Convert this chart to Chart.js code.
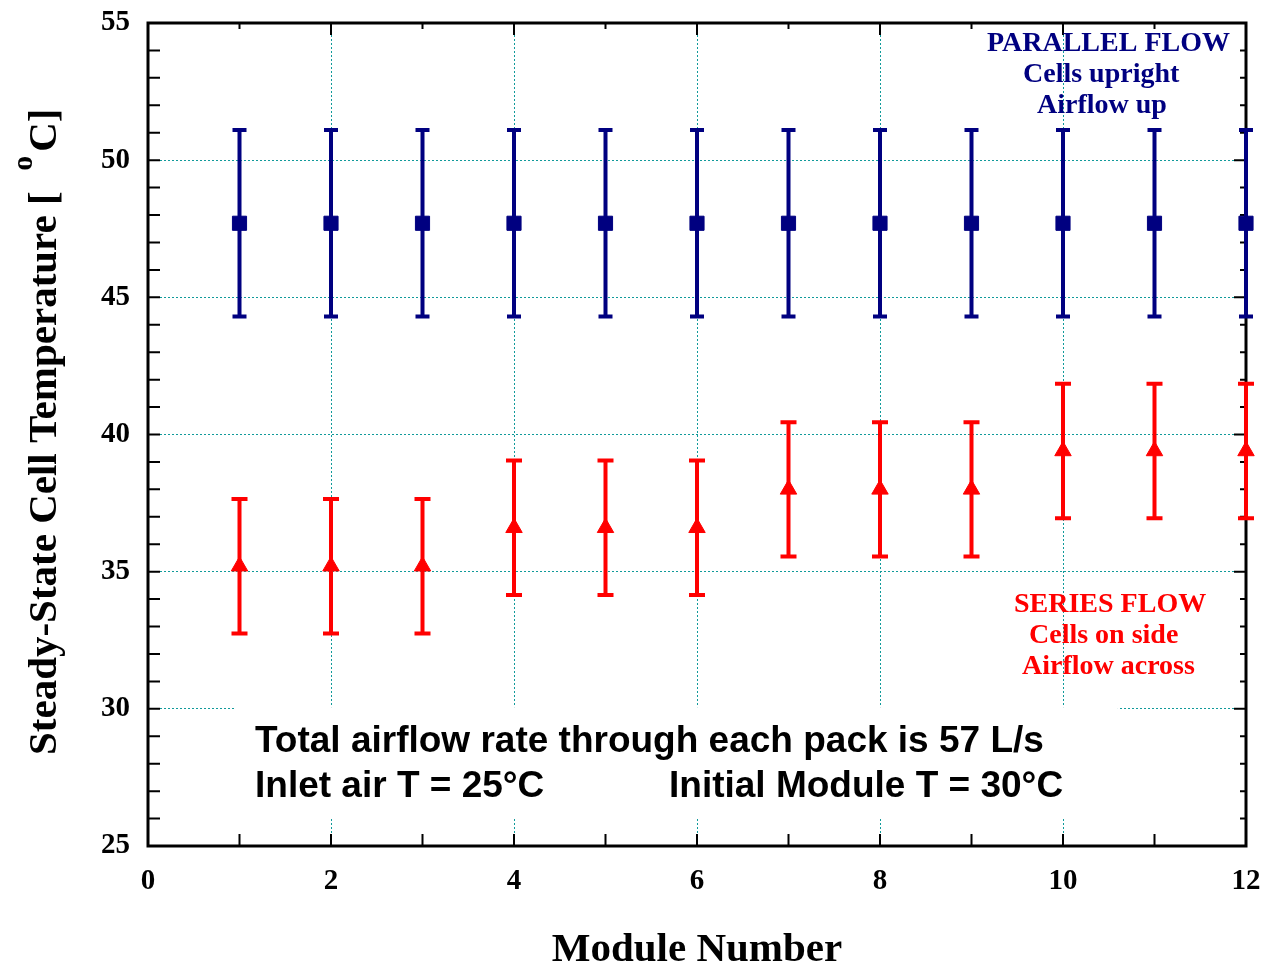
<!DOCTYPE html>
<html>
<head>
<meta charset="utf-8">
<title>Steady-State Cell Temperature by Module</title>
<script src="https://cdn.jsdelivr.net/npm/chart.js@4.4.1/dist/chart.umd.min.js"></script>
<style>
    html, body { margin: 0; padding: 0; background: #fff; }
    #wrap { width: 1262px; height: 966px; }
</style>
</head>
<body>
<div id="wrap"><canvas id="tempChart" width="1262" height="966"></canvas></div>
<script>
// Module numbers along the pack
const modules = [1, 2, 3, 4, 5, 6, 7, 8, 9, 10, 11, 12];

// Parallel flow: cells upright, airflow up
const parallelTemp = [47.7, 47.7, 47.7, 47.7, 47.7, 47.7, 47.7, 47.7, 47.7, 47.7, 47.7, 47.7];
const parallelErr = [3.4, 3.4, 3.4, 3.4, 3.4, 3.4, 3.4, 3.4, 3.4, 3.4, 3.4, 3.4];

// Series flow: cells on side, airflow across
const seriesTemp = [35.2, 35.2, 35.2, 36.6, 36.6, 36.6, 38.0, 38.0, 38.0, 39.4, 39.4, 39.4];
const seriesErr = [2.45, 2.45, 2.45, 2.45, 2.45, 2.45, 2.45, 2.45, 2.45, 2.45, 2.45, 2.45];

// Axis ranges and steps
const xRange = [0, 12];
const xStep = 2;
const yRange = [25, 55];
const yStep = 5;

const NAVY = '#000080';
const RED = '#ff0000';
const GRID = '#109a9a';
const SERIF = "'Liberation Serif', 'Times New Roman', serif";
const SANS = "'Liberation Sans', Arial, sans-serif";

function toPoints(xs, ys) {
    return xs.map((m, i) => ({ x: m, y: ys[i] }));
}

// Frame, inside tick marks, note panel and flow labels
const decorPlugin = {
    id: 'decor',
    beforeDatasetsDraw(chart) {
        const { ctx, chartArea: a, scales: { x, y } } = chart;
        ctx.save();

        // white panel under the airflow note hides the grid
        const bx0 = x.getPixelForValue(0.95), bx1 = x.getPixelForValue(10.6);
        const by0 = y.getPixelForValue(30.06), by1 = y.getPixelForValue(26.05);
        ctx.fillStyle = '#fff';
        ctx.fillRect(bx0, by0, bx1 - bx0, by1 - by0);

        // ticks: bottom/left all 12px, top/right minor 6px
        ctx.strokeStyle = '#000';
        ctx.lineWidth = 2;
        ctx.beginPath();
        for (let v = xRange[0]; v <= xRange[1]; v++) {
            const px = x.getPixelForValue(v);
            const major = v % xStep === 0;
            ctx.moveTo(px, a.bottom); ctx.lineTo(px, a.bottom - 12);
            ctx.moveTo(px, a.top); ctx.lineTo(px, a.top + (major ? 12 : 6));
        }
        for (let v = yRange[0]; v <= yRange[1]; v++) {
            const py = y.getPixelForValue(v);
            const major = v % yStep === 0;
            ctx.moveTo(a.left, py); ctx.lineTo(a.left + 12, py);
            ctx.moveTo(a.right, py); ctx.lineTo(a.right - (major ? 12 : 6), py);
        }
        ctx.stroke();

        // plot frame
        ctx.lineWidth = 3;
        ctx.strokeRect(a.left, a.top, a.right - a.left, a.bottom - a.top);

        // flow labels
        ctx.font = 'bold 28px ' + SERIF;
        ctx.textBaseline = 'middle';
        ctx.textAlign = 'left';
        ctx.fillStyle = NAVY;
        ctx.fillText('PARALLEL FLOW', 987, 44);
        ctx.fillText('Cells upright', 1023, 75);
        ctx.fillText('Airflow up', 1037, 106);
        ctx.fillStyle = RED;
        ctx.fillText('SERIES FLOW', 1014, 605);
        ctx.fillText('Cells on side', 1029, 636);
        ctx.fillText('Airflow across', 1022, 667);

        // airflow note
        ctx.fillStyle = '#000';
        ctx.font = 'bold 37px ' + SANS;
        ctx.textBaseline = 'alphabetic';
        ctx.fillText('Total airflow rate through each pack is 57 L/s', 255, 752);
        ctx.fillText('Inlet air T = 25°C', 255, 797);
        ctx.fillText('Initial Module T = 30°C', 669, 797);

        ctx.restore();
    }
};

// Vertical error bars with caps, drawn under the markers
const errorBarPlugin = {
    id: 'errorBars',
    beforeDatasetsDraw(chart) {
        const { ctx, scales: { x, y } } = chart;
        const sets = [
            { temps: parallelTemp, errs: parallelErr, color: NAVY, cap: 7 },
            { temps: seriesTemp, errs: seriesErr, color: RED, cap: 8 }
        ];
        ctx.save();
        ctx.lineWidth = 4;
        sets.forEach(s => {
            ctx.strokeStyle = s.color;
            ctx.beginPath();
            modules.forEach((m, i) => {
                const px = x.getPixelForValue(m);
                const top = y.getPixelForValue(s.temps[i] + s.errs[i]);
                const bot = y.getPixelForValue(s.temps[i] - s.errs[i]);
                ctx.moveTo(px, top); ctx.lineTo(px, bot);
                ctx.moveTo(px - s.cap, top); ctx.lineTo(px + s.cap, top);
                ctx.moveTo(px - s.cap, bot); ctx.lineTo(px + s.cap, bot);
            });
            ctx.stroke();
        });
        ctx.restore();
    }
};

// Axis titles, including the raised degree mark
const titlesPlugin = {
    id: 'titles',
    afterDraw(chart) {
        const { ctx, chartArea: a } = chart;
        ctx.save();
        ctx.fillStyle = '#000';
        ctx.font = 'bold 41px ' + SERIF;
        ctx.textAlign = 'center';
        ctx.textBaseline = 'alphabetic';
        ctx.fillText('Module Number', (a.left + a.right) / 2, 961);

        ctx.translate(56, 755);
        ctx.rotate(-Math.PI / 2);
        ctx.textAlign = 'left';
        const main = 'Steady-State Cell Temperature [  ';
        ctx.fillText(main, 0, 0);
        let pos = ctx.measureText(main).width;
        ctx.font = 'bold 30px ' + SERIF;
        ctx.fillText('o', pos, -24);
        pos += ctx.measureText('o').width + 4;
        ctx.font = 'bold 41px ' + SERIF;
        ctx.fillText('C]', pos, 0);
        ctx.restore();
    }
};

function gridColor(ctx, range) {
    const v = ctx.tick ? ctx.tick.value : null;
    return (v === range[0] || v === range[1]) ? 'rgba(0,0,0,0)' : GRID;
}

const tempChart = new Chart(document.getElementById('tempChart').getContext('2d'), {
    type: 'scatter',
    data: {
        datasets: [{
            label: 'Parallel flow',
            data: toPoints(modules, parallelTemp),
            pointStyle: 'rect',
            pointRadius: 10,
            pointHoverRadius: 10,
            backgroundColor: NAVY,
            borderColor: NAVY,
            borderWidth: 1,
            clip: false
        }, {
            label: 'Series flow',
            data: toPoints(modules, seriesTemp),
            pointStyle: 'triangle',
            pointRadius: 9.5,
            pointHoverRadius: 9.5,
            backgroundColor: RED,
            borderColor: RED,
            borderWidth: 1,
            clip: false
        }]
    },
    options: {
        responsive: false,
        animation: false,
        events: [],
        layout: { padding: { top: 23, right: 16, left: 0, bottom: 0 } },
        plugins: {
            legend: { display: false },
            tooltip: { enabled: false }
        },
        scales: {
            x: {
                type: 'linear',
                min: xRange[0],
                max: xRange[1],
                afterFit: s => {
                    s.height = 120;
                    s.paddingLeft = 0;
                    s.paddingRight = 0;
                },
                grid: {
                    color: c => gridColor(c, xRange),
                    lineWidth: 1,
                    drawTicks: false
                },
                border: { display: false, dash: [2, 2] },
                ticks: {
                    stepSize: xStep,
                    padding: 18,
                    color: '#000',
                    maxRotation: 0,
                    font: { family: SERIF, size: 29, weight: 'bold' }
                }
            },
            y: {
                type: 'linear',
                min: yRange[0],
                max: yRange[1],
                afterFit: s => {
                    s.width = 148;
                    s.paddingTop = 0;
                    s.paddingBottom = 0;
                },
                grid: {
                    color: c => gridColor(c, yRange),
                    lineWidth: 1,
                    drawTicks: false
                },
                border: { display: false, dash: [2, 2] },
                ticks: {
                    stepSize: yStep,
                    padding: 18,
                    color: '#000',
                    font: { family: SERIF, size: 29, weight: 'bold' }
                }
            }
        }
    },
    plugins: [decorPlugin, errorBarPlugin, titlesPlugin]
});
</script>
</body>
</html>
